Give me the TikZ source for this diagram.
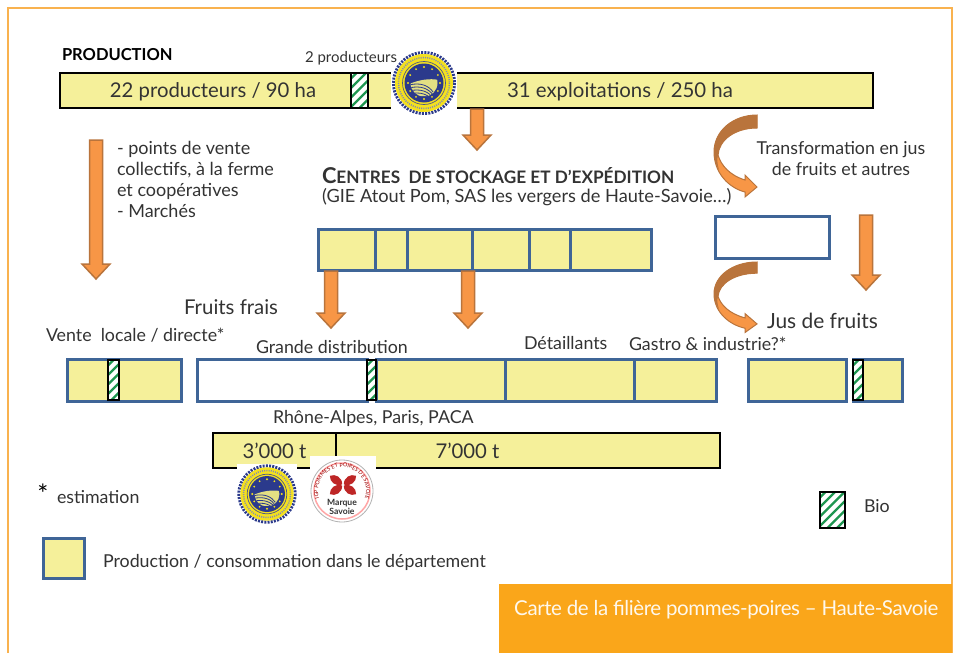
\documentclass[tikz,border=0pt]{standalone}
\usepackage{fontspec}
\setmainfont{Lato}
\usetikzlibrary{decorations.text}
\definecolor{ybox}{HTML}{F5F09A}
\definecolor{bluebd}{HTML}{3F6597}
\definecolor{arrfill}{HTML}{F79646}
\definecolor{arrbd}{HTML}{B9743C}
\definecolor{txt}{HTML}{333333}
\definecolor{frameor}{HTML}{F9B24F}
\definecolor{orbox}{HTML}{FAA61A}
\definecolor{hatchg}{HTML}{1E9650}
\definecolor{sealblue}{HTML}{2B3A8C}
\definecolor{sealyel}{HTML}{F4E11E}
\tikzset{
  x=1pt,y=-1pt,
  lbl/.style={text=txt,inner sep=0pt,outer sep=0pt,font=\fontsize{17.8}{21}\selectfont},
  lblb/.style={lbl,font=\fontsize{20.3}{24}\selectfont},
  cell/.style={inner sep=0pt,outer sep=0pt,anchor=north west},
  yb/.style={cell,draw=bluebd,fill=ybox,line width=3pt},
  wb/.style={cell,draw=bluebd,fill=white,line width=3pt},
  kb/.style={cell,draw=black,fill=ybox,line width=2pt},
  blockarr/.style={fill=arrfill,draw=arrbd,line width=1.5pt,line join=miter},
}
% name, style, x1,y1,x2,y2
\newcommand{\bx}[6]{\pgfmathsetmacro{\bw}{#5-#3}\pgfmathsetmacro{\bh}{#6-#4}%
  \node[#2,minimum width=\bw pt,minimum height=\bh pt] (#1) at (#3,#4) {};}
% hatched cell
\newcommand{\hatchcell}[5]{%
  \begin{scope}
    \clip (#2,#3) rectangle (#4,#5);
    \fill[white] (#2,#3) rectangle (#4,#5);
    \foreach \k in {-8,...,10}{
      \draw[hatchg,line width=2.2pt] (#2-4,#3+\k*9.5) -- (#2+50,#3+\k*9.5-54);
    }
  \end{scope}
  \bx{#1}{cell,draw=black,line width=1.3pt}{#2}{#3}{#4}{#5}}
% x, y1, y2
\newcommand{\blockdown}[3]{%
  \pgfmathsetmacro{\by}{#3-15}%
  \draw[blockarr] (#1-6.5,#2) -- (#1+6.5,#2) -- (#1+6.5,\by) -- (#1+14,\by) -- (#1,#3) -- (#1-14,\by) -- (#1-6.5,\by) -- cycle;}
% curved arrow: origin x,y and vertical scale
\newcommand{\curvearrow}[3]{%
  \begin{scope}[shift={(#1,#2)},yscale=#3]
    \fill[arrfill,draw=arrbd,line width=1pt,line join=miter]
      (0,0) .. controls (-24,0) and (-43,16) .. (-43,37) .. controls (-43,58) and (-28,73) .. (-12,77)
      -- (-12,82) -- (0,72) -- (-12,60) -- (-12,65)
      .. controls (-28,60) and (-36,50) .. (-39,40) .. controls (-38,25) and (-22,13) .. (0,13) -- cycle;
    \fill[arrbd] (0,0) .. controls (-24,0) and (-43,16) .. (-43,37) .. controls (-43,44) and (-41,50) .. (-38,55)
      .. controls (-40,48) and (-40,44) .. (-39,40) .. controls (-38,25) and (-22,13) .. (0,13) -- cycle;
  \end{scope}}
% IGP seal: cx cy r
\newcommand{\igpseal}[3]{%
  \begin{scope}[shift={(#1,#2)},scale=#3/32]
    \fill[white] (-33,-33) rectangle (33,33);
    \draw[sealblue,line width=3pt,dash pattern=on 2pt off 1.2pt] (0,0) circle (30.5);
    \fill[sealyel] (0,0) circle (29);
    \draw[sealblue!60!gray,line width=.7pt] (0,0) circle (21.5);
    \draw[sealblue!60,line width=1.5pt,dash pattern=on 1pt off 1.2pt] (0,0) circle (25.5);
    \fill[sealblue] (0,0) circle (19.5);
    \foreach \a in {0,30,...,330}{\fill[sealyel] (\a:16) circle (1.1);}
    \begin{scope}
      \clip (0,0) circle (13.5);
      \fill[ybox!85!olive] (-15,1) .. controls (-5,-3) and (5,-5) .. (15,-3) -- (15,13) -- (-15,13) -- cycle;
      \foreach \t in {2,5,8,11}{\draw[sealblue,line width=.8pt] (-15,\t) .. controls (-3,\t-3) and (5,\t+1) .. (9,\t+7);}
    \end{scope}
  \end{scope}}
\newcommand{\marque}[2]{%
  \begin{scope}[shift={(#1,#2)}]
    \fill[white] (-31,-33) rectangle (35,36);
    \draw[gray!60,line width=.8pt] (1,2) circle (31);
    \draw[red!35!white,line width=1.5pt] (1,2) circle (28);
    \path[decorate,decoration={text along path,text align=center,
      text={|\fontsize{5.4}{6}\selectfont\color{red!60!black}|IGP POMMES ET POIRES DE SAVOIE}}]
      (-19.8,14) arc[start angle=150,end angle=390,radius=24];
    \foreach \a in {35,145,215,325}{
      \begin{scope}[shift={(2,-4)},rotate=\a]
        \fill[red!70!black!85!white] (1,0) .. controls (5,-6) and (13,-5) .. (16,0) .. controls (13,5) and (5,6) .. (1,0) -- cycle;
      \end{scope}}
    \node[inner sep=0pt,font=\fontsize{8.6}{8.6}\selectfont\bfseries,align=center,text=black!80] (marquetxt) at (1,18) {Marque\\Savoie};
  \end{scope}}
\begin{document}
\begin{tikzpicture}
\useasboundingbox (0,0) rectangle (960,653);
\fill[white] (0,0) rectangle (960,653);
\draw[frameor,line width=1.5pt] (8,653) -- (8,8) -- (952,8) -- (952,653);
\fill[orbox] (499,584) rectangle (952,653);
\node[text=white!92!orbox,inner sep=0pt,anchor=west,font=\fontsize{20.5}{24}\selectfont\addfontfeatures{LetterSpace=-2}] (titre) at (514,610) {Carte de la filière pommes-poires – Haute-Savoie};

% production
\bx{prod}{kb}{60}{73}{873}{108}
\hatchcell{prodbio}{351}{73}{368}{108}
\blockdown{477}{109}{150}
\igpseal{424}{83}{32}
\node[lbl,anchor=west,font=\fontsize{16.5}{18}\selectfont\bfseries,text=black] (tprod) at (62,55) {PRODUCTION};
\node[lbl,anchor=west,font=\fontsize{15}{18}\selectfont] (t2p) at (305,58) {2 producteurs};
\node[lblb] (t22) at (213,92) {22 producteurs / 90 ha};
\node[lblb,anchor=west,font=\fontsize{20.4}{24}\selectfont] (t31) at (507,92) {31 exploitations / 250 ha};

% left column
\blockdown{96}{140}{279}
\node[lbl,anchor=north west,align=left,font=\fontsize{18}{21}\selectfont] (tpts) at (117,141) {- points de vente\\collectifs, à la ferme\\et coopératives\\- Marchés};

% stock
\node[lbl,anchor=west,font=\fontsize{17.2}{18}\selectfont\bfseries] (tcentres) at (322,176) {{\fontsize{21.8}{22}\selectfont C}ENTRES\ \ DE STOCKAGE ET D’EXPÉDITION};
\node[lbl,anchor=west,font=\fontsize{18.2}{21}\selectfont] (tgie) at (322,197) {(GIE Atout Pom, SAS les vergers de Haute-Savoie…)};
\bx{s1}{yb}{318}{229}{375}{270}
\bx{s2}{yb}{375}{229}{407}{270}
\bx{s3}{yb}{407}{229}{472}{270}
\bx{s4}{yb}{472}{229}{529}{270}
\bx{s5}{yb}{529}{229}{570}{270}
\bx{s6}{yb}{570}{229}{651}{270}
\blockdown{331}{271}{328}
\blockdown{468}{271}{328}

% transformation
\curvearrow{757}{115}{1}
\node[lbl,align=center,font=\fontsize{17.8}{21}\selectfont] (ttrans) at (841,159) {Transformation en jus\\de fruits et autres};
\bx{jusbox}{wb}{715}{216}{829}{258}
\blockdown{866}{215}{290}
\curvearrow{757}{262}{.86}
\node[lbl,anchor=west,font=\fontsize{20.9}{24}\selectfont] (tjus) at (767,321) {Jus de fruits};

% labels row
\node[lbl,anchor=west,font=\fontsize{20.4}{24}\selectfont] (tfrais) at (184,307) {Fruits frais};
\node[lbl,anchor=west] (tvente) at (46,335) {Vente\ \ locale / directe*};
\node[lbl,anchor=west] (tgd) at (256,347) {Grande distribution};
\node[lbl,anchor=west] (tdet) at (524,343) {Détaillants};
\node[lbl,anchor=west] (tgastro) at (629,344) {Gastro \& industrie?*};

% row of boxes
\bx{v1}{yb}{67}{359}{181}{401}
\hatchcell{v1bio}{108}{360}{119}{400}
\bx{gdw}{wb}{197}{359}{367}{401}
\bx{gdy}{yb}{376}{359}{505}{401}
\bx{dety}{yb}{505}{359}{634}{401}
\bx{gasy}{yb}{634}{359}{716}{401}
\hatchcell{gdbio}{367}{360}{376}{400}
\bx{j1}{yb}{748}{359}{846}{401}
\bx{j2}{yb}{853}{359}{902}{401}
\hatchcell{j2bio}{853}{360}{863}{400}

% volumes
\node[lbl,anchor=west] (trhone) at (273,418) {Rhône-Alpes, Paris, PACA};
\bx{vol1}{kb}{213}{433}{336}{468}
\bx{vol2}{kb}{336}{433}{720}{468}
\node[lblb] (t3000) at (274.5,451) {3’000 t};
\node[lblb] (t7000) at (467.5,451) {7’000 t};
\igpseal{267}{494}{29.5}
\marque{341}{489}

% legend
\node[lbl,font=\fontsize{26}{26}\selectfont,text=black] (tstar) at (43,494) {*};
\node[lbl,anchor=west] (testim) at (57,497) {estimation};
\bx{legy}{yb}{43}{538}{84}{578}
\node[lbl,anchor=west] (tlegy) at (103,562) {Production / consommation dans le département};
\hatchcell{legbio}{820}{492}{845}{528}
\node[lbl,anchor=west] (tbio) at (864,506) {Bio};
\end{tikzpicture}
\end{document}
